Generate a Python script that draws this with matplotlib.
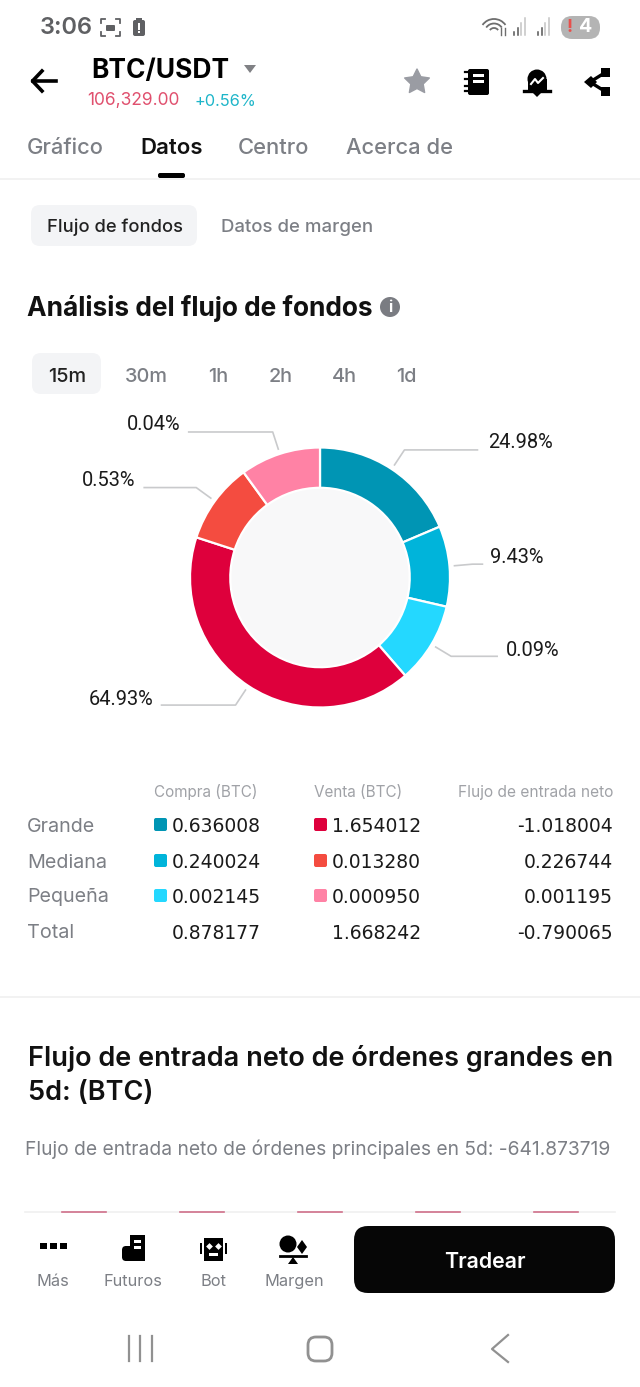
import numpy as np
import matplotlib
matplotlib.use('Agg')
import matplotlib.pyplot as plt
from matplotlib.patches import FancyBboxPatch, Rectangle, Circle, Polygon, Arc

W, H = 640, 1387

# угловые размеры секторов (минимальный угол у мелких долей)
slice_spans = [67, 36, 36, 149, 36, 36]
slice_colors = ['#0095B4', '#00B4DA', '#24D8FF', '#DE003C', '#F44C40', '#FF82A5']
slice_labels = ['24.98%', '9.43%', '0.09%', '64.93%', '0.53%', '0.04%']

tabs = ['Gráfico', 'Datos', 'Centro', 'Acerca de']
periods = ['15m', '30m', '1h', '2h', '4h', '1d']

rows = ['Grande', 'Mediana', 'Pequeña', 'Total']
buy = ['0.636008', '0.240024', '0.002145', '0.878177']
sell = ['1.654012', '0.013280', '0.000950', '1.668242']
net = ['-1.018004', '0.226744', '0.001195', '-0.790065']
buy_colors = ['#0095B4', '#00B4DA', '#24D8FF']
sell_colors = ['#DE003C', '#F44C40', '#FF82A5']

nav_labels = ['Más', 'Futuros', 'Bot', 'Margen']

plt.rcParams['font.family'] = ['Inter', 'DejaVu Sans']

fig = plt.figure(figsize=(W / 100, H / 100), dpi=100, facecolor='white')
ax = fig.add_axes([0, 0, 1, 1])
ax.set_xlim(0, W)
ax.set_ylim(H, 0)
ax.axis('off')


def txt(x, y, s, size, color='black', weight='normal', ha='left', **kw):
    return ax.text(x, y + 1.5, s, fontsize=size, color=color, fontweight=weight,
                   ha=ha, va='center', **kw)


def rbox(x, y, w, h, r, color):
    ax.add_patch(FancyBboxPatch((x + r, y + r), w - 2 * r, h - 2 * r,
                                boxstyle='round,pad=%f' % r, fc=color, ec='none'))


GREY = '#7C7F85'
STATUS = '#5F6063'

# статус-бар
txt(40, 26, '3:06', 17, STATUS, 'semibold')
# значок скриншота: уголки рамки и картинка внутри
for sx, sy in [(101, 19), (120, 19), (101, 36), (120, 36)]:
    dx = 4 if sx == 101 else -4
    dy = 4 if sy == 19 else -4
    ax.plot([sx + dx, sx, sx], [sy, sy, sy + dy], color=STATUS, lw=1.3)
rbox(106, 25, 9, 6, 1, STATUS)
# батарея с восклицательным знаком
rbox(133, 20, 12, 16, 2, STATUS)
ax.add_patch(Rectangle((136, 18), 6, 2, fc=STATUS, ec='none'))
ax.add_patch(Rectangle((138, 23), 2, 7, fc='white', ec='none'))
ax.add_patch(Rectangle((138, 31), 2, 2, fc='white', ec='none'))
# wifi
for d in [28, 19, 10]:
    ax.add_patch(Arc((494, 33), d, d, theta1=215, theta2=325, color='#6E6E6E', lw=1.3))
ax.plot([501, 501], [28, 35], color='#6E6E6E', lw=1)
ax.plot([505, 505], [28, 35], color='#6E6E6E', lw=1)
# уровень сигнала
for x0 in [514, 538]:
    for i, h in enumerate([3, 7, 12, 17]):
        ax.plot([x0 + i * 3.6] * 2, [35, 35 - h], color='#555555' if i < 2 else '#C4C4C4', lw=1.1)
rbox(561, 16, 39, 23, 11, '#B4B4B4')
txt(570, 26, '!', 13, '#E8504C', 'bold', ha='center')
txt(586, 26, '4', 14, 'white', 'bold', ha='center')

# заголовок
ax.plot([33, 56], [81, 81], color='black', lw=2.6)
ax.plot([42, 32.5, 42], [71, 81, 91], color='black', lw=2.6)
txt(91, 69.5, 'BTC/USDT', 19, 'black', 'bold')
ax.add_patch(Polygon([(244, 65), (256, 65), (250, 73)], fc='#808185', ec='none'))
txt(87, 99.5, '106,329.00', 12.5, '#E0506E')
txt(195, 99.5, '+0.56%', 11.8, '#1DB5C9')

# звезда
star_a = np.deg2rad(np.arange(10) * 36 - 90)
star_r = np.where(np.arange(10) % 2 == 0, 13, 6.5)
ax.add_patch(Polygon(np.column_stack([417 + star_r * np.cos(star_a), 82 + star_r * np.sin(star_a)]),
                     fc='#9A9CA3', ec='#9A9CA3', lw=1, joinstyle='round'))

# книжка
rbox(468, 69, 21, 26, 2, 'black')
for y in [72, 79, 86, 91]:
    ax.plot([465, 469], [y, y], color='black', lw=1.6)
ax.add_patch(Rectangle((473, 74), 11, 3, fc='white', ec='none'))
ax.add_patch(Rectangle((473, 80), 11, 3, fc='white', ec='none'))
# колокольчик
ax.add_patch(Circle((537, 79), 9.5, fc='black', ec='none'))
ax.add_patch(Rectangle((527.5, 79), 19, 12, fc='black', ec='none'))
ax.plot([524, 550], [91, 91], color='black', lw=2.4)
ax.add_patch(Polygon([(533, 93), (541, 93), (537, 97)], fc='black', ec='none'))
ax.plot([531, 535, 538, 543], [84, 79, 83, 78], color='white', lw=1.5)
# поделиться
ax.plot([606, 590, 606], [72, 82, 92], color='black', lw=2.4)
ax.add_patch(Rectangle((601, 68), 9, 9, fc='black', ec='none'))
ax.add_patch(Rectangle((601, 87), 9, 9, fc='black', ec='none'))
ax.add_patch(Polygon([(584, 82), (591, 76), (597, 82), (591, 88)], fc='black', ec='none'))

# вкладки
tab_x = [27, 140, 238, 346]
for x, s in zip(tab_x, tabs):
    if s == 'Datos':
        txt(x, 147, s, 16, '#111111', 'semibold')
    else:
        txt(x, 147, s, 15.8, GREY, 'medium')
rbox(158, 173, 27, 5, 2, 'black')
ax.plot([0, W], [178.5, 178.5], color='#F0F0F0', lw=1.2)

rbox(31, 205, 166, 41, 9, '#F3F4F6')
txt(47, 226, 'Flujo de fondos', 13.2, '#222222', 'medium')
txt(221, 226, 'Datos de margen', 13.4, GREY, 'medium')

txt(27, 307.5, 'Análisis del flujo de fondos', 18.9, '#111111', 'bold')
ax.add_patch(Circle((390, 307), 10, fc='#7A7C82', ec='none'))
txt(390, 305.5, 'i', 11, 'white', 'bold', ha='center')

# периоды
rbox(32, 353, 69, 41, 9, '#F3F4F6')
per_x = [67, 146.5, 218, 281, 344, 406]
for i, (x, s) in enumerate(zip(per_x, periods)):
    txt(x, 375, s, 14.3, '#222222' if i == 0 else GREY, 'medium', ha='center')

# кольцевая диаграмма
cx, cy, R = 320, 577.5, 130
pie_ax = fig.add_axes([(cx - R) / W, 1 - (cy + R) / H, 2 * R / W, 2 * R / H])
wedges, _ = pie_ax.pie(slice_spans, colors=slice_colors, startangle=90, counterclock=False, radius=1,
                       wedgeprops=dict(width=0.31, edgecolor='white', linewidth=1.6))
pie_ax.set_xlim(-1, 1)
pie_ax.set_ylim(-1, 1)
ax.add_patch(Circle((cx, cy), 90, fc='#F8F8F9', ec='none', zorder=0))
pie_ax.patch.set_alpha(0)

# линии-выноски от середины каждого сектора
leader_len = [73, 10, 46, 74, 52, 84]
label_x = [488, 490, 506, 153, 135, 181]
label_dy = [-9, -8, -7, -7, -9, -9]
for w, s, ln, lx, dy in zip(wedges, slice_labels, leader_len, label_x, label_dy):
    a = np.deg2rad((w.theta1 + w.theta2) / 2)
    ux, uy = np.cos(a), -np.sin(a)
    side = 1 if ux > 0 else -1
    x1, y1 = cx + 135 * ux, cy + 135 * uy
    x2, y2 = cx + 153 * ux, cy + 153 * uy
    x3 = x2 + side * ln
    ax.plot([x1, x2, x3], [y1, y2, y2], color='#C9CACC', lw=1.2)
    txt(lx, y2 + dy, s, 14.4, '#1A1A1A', ha='left' if side > 0 else 'right', family='Roboto')

# таблица
txt(206, 791, 'Compra (BTC)', 11, '#A0A2A7', ha='center')
txt(358, 791, 'Venta (BTC)', 11, '#A0A2A7', ha='center')
txt(613, 791, 'Flujo de entrada neto', 11.2, '#A0A2A7', ha='right')
row_y = [825, 861, 896, 932]
for i, y in enumerate(row_y):
    txt(27, y, rows[i], 14.2, GREY)
    txt(261, y, buy[i], 13.5, '#1A1A1A', ha='right', family='DejaVu Sans')
    txt(421, y, sell[i], 13.5, '#1A1A1A', ha='right', family='DejaVu Sans')
    txt(613, y, net[i], 13.5, '#1A1A1A', ha='right', family='DejaVu Sans')
    if i < 3:
        rbox(154, y - 7, 13, 13, 2, buy_colors[i])
        rbox(314, y - 7, 13, 13, 2, sell_colors[i])

ax.plot([0, W], [997, 997], color='#F0F0F0', lw=1.2)

txt(28, 1057, 'Flujo de entrada neto de órdenes grandes en', 19.5, '#111111', 'semibold')
txt(28, 1092, '5d: (BTC)', 19.5, '#111111', 'semibold')
txt(25, 1147.5, 'Flujo de entrada neto de órdenes principales en 5d: -641.873719', 13.85, GREY)

# нижняя панель
ax.plot([25, 615], [1212, 1212], color='#F0F0F0', lw=1.2)
for x0 in [62, 180, 298, 416, 534]:
    ax.plot([x0, x0 + 44], [1212, 1212], color='#D0708A', lw=1.2)

nav_x = [53, 133, 213, 294]
for x, s in zip(nav_x, nav_labels):
    txt(x, 1280, s, 11.8, GREY, ha='center')

# значки нижней панели
for x in [43, 53, 63]:
    ax.add_patch(Rectangle((x - 3.5, 1243), 7, 6, fc='black', ec='none'))
ax.add_patch(Rectangle((130, 1235), 15, 26, fc='black', ec='none'))
rbox(122, 1246, 22, 15, 4, 'black')
ax.add_patch(Rectangle((134, 1240), 7, 2.5, fc='white', ec='none'))
ax.add_patch(Rectangle((134, 1246), 7, 2.5, fc='white', ec='none'))
ax.add_patch(Rectangle((204, 1238), 19, 23, fc='black', ec='none'))
ax.add_patch(Rectangle((200, 1243), 2, 11, fc='black', ec='none'))
ax.add_patch(Rectangle((225, 1243), 2, 11, fc='black', ec='none'))
ax.scatter([209, 218], [1246, 1246], marker='D', s=12, color='white', linewidths=0)
ax.add_patch(Rectangle((209, 1253), 9, 2.5, fc='white', ec='none'))
ax.add_patch(Circle((288, 1244), 8.5, fc='black', ec='none'))
ax.plot([280, 306], [1255.5, 1255.5], color='black', lw=2)
ax.add_patch(Polygon([(293, 1257), (288, 1264), (298, 1264)], fc='black', ec='none'))
ax.add_patch(Polygon([(302, 1240), (307, 1247), (302, 1254), (297, 1247)], fc='black', ec='none'))

rbox(354, 1226, 261, 67, 14, '#060606')
txt(485, 1260, 'Tradear', 15.4, 'white', 'semibold', ha='center')

# системные кнопки
for x in [129, 140, 152]:
    ax.plot([x, x], [1336, 1361], color='#919191', lw=1.6)
ax.add_patch(FancyBboxPatch((316, 1345), 8, 8, boxstyle='round,pad=8', fc='white', ec='#919191', lw=2))
ax.plot([508, 492, 508], [1335, 1349, 1362], color='#919191', lw=1.6)

fig.savefig('out.png', dpi=100, facecolor='white')
